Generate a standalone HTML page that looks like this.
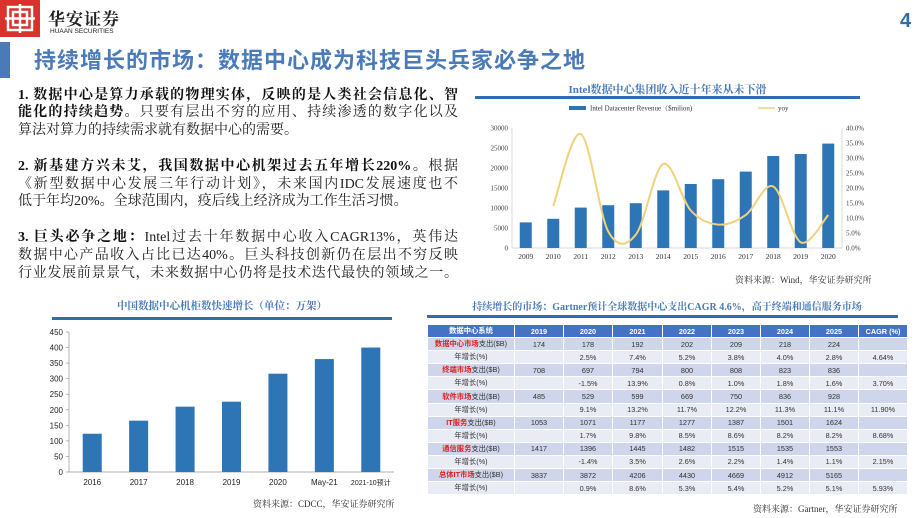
<!DOCTYPE html>
<html><head><meta charset="utf-8">
<style>
*{margin:0;padding:0;box-sizing:border-box}
body{width:920px;height:518px;overflow:hidden;background:#fff;position:relative;font-family:"Liberation Serif","Noto Serif CJK SC",serif}
.abs{position:absolute}
.ln{position:absolute;left:18px;width:440px;font-size:14px;line-height:18px;text-align:justify;text-align-last:justify;color:#222;white-space:nowrap}
.ln.l{text-align-last:left}
b{font-weight:bold;color:#111}
.ctitle{position:absolute;font-weight:bold;color:#4a7ab8;font-size:11px;text-align:center;font-family:"Liberation Serif","Noto Serif CJK SC",serif}
.rule{position:absolute;height:3px;background:#2e6db0}
.src{position:absolute;font-size:9px;color:#333}
table{border-collapse:collapse;position:absolute;left:427px;top:324px;font-family:"Liberation Sans","Noto Sans CJK SC",sans-serif;font-size:7.3px;color:#333;table-layout:fixed}
td,th{border:1px solid #fff;height:13.1px;text-align:center;padding:0}
th{background:#4472c4;color:#fff;font-weight:bold}
tr.v td{background:#cfd5ea}
tr.g td{background:#e9ebf5}
.r{color:#e02020;font-weight:bold}
</style></head><body>
<!-- header -->
<div class="abs" style="left:0;top:0;width:40px;height:37px;background:#d9312c">
<svg width="40" height="37"><g fill="none" stroke="#fff" stroke-width="2.5"><rect x="8" y="7" width="24" height="23"/><line x1="20" y1="4" x2="20" y2="33"/><line x1="5" y1="18.5" x2="35" y2="18.5"/><rect x="13" y="12" width="14" height="13"/></g></svg></div>
<div class="abs" style="left:48px;top:5px;font-size:17px;font-family:'Noto Serif CJK SC',serif;color:#222;font-weight:bold;letter-spacing:1px">华安证券</div>
<div class="abs" style="left:50px;top:28px;font-size:6.5px;font-family:'Liberation Sans',sans-serif;color:#222">HUAAN SECURITIES</div>
<div class="abs" style="left:900px;top:10px;font-size:20px;font-weight:bold;color:#2e6db0;font-family:'Liberation Sans',sans-serif">4</div>
<div class="abs" style="left:0;top:42px;width:10px;height:36px;background:#4a7ab8"></div>
<div class="abs" style="left:34px;top:43px;font-size:22px;font-weight:bold;color:#4a7ab8;letter-spacing:1px;font-family:'Liberation Sans','Noto Sans CJK SC',sans-serif">持续增长的市场：数据中心成为科技巨头兵家必争之地</div>
<!-- paragraphs -->
<div>
<div class="ln" style="top:87px"><b>1. 数据中心是算力承载的物理实体，反映的是人类社会信息化、智</b></div>
<div class="ln" style="top:104px"><b>能化的持续趋势。</b>只要有层出不穷的应用、持续渗透的数字化以及</div>
<div class="ln l" style="top:122px">算法对算力的持续需求就有数据中心的需要。</div>
</div>
<div>
<div class="ln" style="top:158px"><b>2. 新基建方兴未艾，我国数据中心机架过去五年增长220%。</b>根据</div>
<div class="ln" style="top:176px">《新型数据中心发展三年行动计划》，未来国内IDC发展速度也不</div>
<div class="ln l" style="top:193px">低于年均20%。全球范围内，疫后线上经济成为工作生活习惯。</div>
</div>
<div>
<div class="ln" style="top:229px"><b>3. 巨头必争之地：</b>Intel过去十年数据中心收入CAGR13%，英伟达</div>
<div class="ln" style="top:247px">数据中心产品收入占比已达40%。巨头科技创新仍在层出不穷反映</div>
<div class="ln" style="top:265px">行业发展前景景气，未来数据中心仍将是技术迭代最快的领域之一。</div>
</div>

<!-- Intel chart -->
<div class="ctitle" style="left:475px;top:81px;width:385px">Intel数据中心集团收入近十年来从未下滑</div>
<div class="rule" style="left:475px;top:96px;width:385px"></div>
<svg class="abs" style="left:0;top:0" width="920" height="518" id="intel"></svg>
<div class="src" style="left:735px;top:273px">资料来源：Wind，华安证券研究所</div>

<!-- Rack chart -->
<div class="ctitle" style="left:52px;top:298px;width:340px;font-size:10.5px">中国数据中心机柜数快速增长（单位：万架）</div>
<div class="rule" style="left:52px;top:317px;width:340px"></div>
<svg class="abs" style="left:0;top:0" width="920" height="518" id="rack"></svg>
<div class="src" style="left:253px;top:497px">资料来源：CDCC，华安证券研究所</div>

<!-- Table -->
<div class="ctitle" style="left:428px;top:298px;width:478px;font-size:10px">持续增长的市场：Gartner预计全球数据中心支出CAGR 4.6%，高于终端和通信服务市场</div>
<div class="rule" style="left:427px;top:315px;width:471px"></div>
<table>
<colgroup><col style="width:87px"><col style="width:49px"><col style="width:49px"><col style="width:50px"><col style="width:49px"><col style="width:49px"><col style="width:49px"><col style="width:49px"><col style="width:49px"></colgroup>
<tr><th>数据中心系统</th><th>2019</th><th>2020</th><th>2021</th><th>2022</th><th>2023</th><th>2024</th><th>2025</th><th>CAGR (%)</th></tr>
<tr class="v"><td><span class="r">数据中心市场</span>支出($B)</td><td>174</td><td>178</td><td>192</td><td>202</td><td>209</td><td>218</td><td>224</td><td></td></tr>
<tr class="g"><td>年增长(%)</td><td></td><td>2.5%</td><td>7.4%</td><td>5.2%</td><td>3.8%</td><td>4.0%</td><td>2.8%</td><td>4.64%</td></tr>
<tr class="v"><td><span class="r">终端市场</span>支出($B)</td><td>708</td><td>697</td><td>794</td><td>800</td><td>808</td><td>823</td><td>836</td><td></td></tr>
<tr class="g"><td>年增长(%)</td><td></td><td>-1.5%</td><td>13.9%</td><td>0.8%</td><td>1.0%</td><td>1.8%</td><td>1.6%</td><td>3.70%</td></tr>
<tr class="v"><td><span class="r">软件市场</span>支出($B)</td><td>485</td><td>529</td><td>599</td><td>669</td><td>750</td><td>836</td><td>928</td><td></td></tr>
<tr class="g"><td>年增长(%)</td><td></td><td>9.1%</td><td>13.2%</td><td>11.7%</td><td>12.2%</td><td>11.3%</td><td>11.1%</td><td>11.90%</td></tr>
<tr class="v"><td><span class="r">IT服务</span>支出($B)</td><td>1053</td><td>1071</td><td>1177</td><td>1277</td><td>1387</td><td>1501</td><td>1624</td><td></td></tr>
<tr class="g"><td>年增长(%)</td><td></td><td>1.7%</td><td>9.8%</td><td>8.5%</td><td>8.6%</td><td>8.2%</td><td>8.2%</td><td>8.68%</td></tr>
<tr class="v"><td><span class="r">通信服务</span>支出($B)</td><td>1417</td><td>1396</td><td>1445</td><td>1482</td><td>1515</td><td>1535</td><td>1553</td><td></td></tr>
<tr class="g"><td>年增长(%)</td><td></td><td>-1.4%</td><td>3.5%</td><td>2.6%</td><td>2.2%</td><td>1.4%</td><td>1.1%</td><td>2.15%</td></tr>
<tr class="v"><td><span class="r">总体IT市场</span>支出($B)</td><td>3837</td><td>3872</td><td>4206</td><td>4430</td><td>4669</td><td>4912</td><td>5165</td><td></td></tr>
<tr class="g"><td>年增长(%)</td><td></td><td>0.9%</td><td>8.6%</td><td>5.3%</td><td>5.4%</td><td>5.2%</td><td>5.1%</td><td>5.93%</td></tr>
</table>
<div class="src" style="left:753px;top:502px">资料来源：Gartner，华安证券研究所</div>

<script>
const NS='http://www.w3.org/2000/svg';
const intelYears=['2009','2010','2011','2012','2013','2014','2015','2016','2017','2018','2019','2020'];
const intelRevenue=[6400,7300,10100,10700,11200,14400,16000,17200,19100,23000,23500,26100];
const intelYoy=[null,14,38,5.5,4.4,28,12.5,7.8,11,20.5,1.9,11];
const revTicks=[0,5000,10000,15000,20000,25000,30000];
const yoyTicks=[0,5,10,15,20,25,30,35,40];
const rackCats=['2016','2017','2018','2019','2020','May-21','2021-10预计'];
const rackValues=[123,165,210,226,316,363,400];
const rackTicks=[0,50,100,150,200,250,300,350,400,450];

function mk(svg,tag,attrs,text){const e=document.createElementNS(NS,tag);for(const k in attrs)e.setAttribute(k,attrs[k]);if(text!=null)e.textContent=text;svg.appendChild(e);return e;}

// Intel chart
(function(){
const svg=document.getElementById('intel');
const x0=512,x1=842,yT=128,yB=248;
const step=(x1-x0)/intelYears.length;
const xC=i=>x0+step*(i+0.5);
const yL=v=>yB-(v/30000)*(yB-yT);
const yR=v=>yB-(v/40)*(yB-yT);
const serif='Liberation Serif, Noto Serif CJK SC, serif';
let lg=mk(svg,'rect',{x:569,y:106,width:17,height:4,fill:'#2e75b6'});

mk(svg,'text',{x:590,y:110.5,'font-size':7,'font-family':serif,fill:'#333'},'Intel Datacenter Revenue（$milion)');
let ly=mk(svg,'line',{x1:758,y1:108,x2:775,y2:108,stroke:'#f0d27a','stroke-width':1.5});

mk(svg,'text',{x:778,y:110.5,'font-size':7,'font-family':serif,fill:'#333'},'yoy');
mk(svg,'line',{x1:x0,y1:yT,x2:x0,y2:yB,stroke:'#ccc','stroke-width':0.7});
mk(svg,'line',{x1:x1,y1:yT,x2:x1,y2:yB,stroke:'#ccc','stroke-width':0.7});
mk(svg,'line',{x1:x0,y1:yB,x2:x1,y2:yB,stroke:'#ccc','stroke-width':0.7});
revTicks.forEach(t=>{const tx=mk(svg,'text',{x:x0-4,y:yL(t)+2.5,'font-size':7,'text-anchor':'end','font-family':serif,fill:'#444'},String(t));
});
yoyTicks.forEach(t=>{const tx=mk(svg,'text',{x:x1+4,y:yR(t)+2.5,'font-size':7,'font-family':serif,fill:'#444'},t.toFixed(1)+'%');
});
intelRevenue.forEach((v,i)=>{const r=mk(svg,'rect',{x:xC(i)-6,y:yL(v),width:12,height:yB-yL(v),fill:'#2e75b6'});
});
intelYears.forEach((y,i)=>{const tx=mk(svg,'text',{x:xC(i),y:yB+11,'font-size':7.5,'text-anchor':'middle','font-family':serif,fill:'#333'},y);
});
const pts=[];intelYoy.forEach((v,i)=>{if(v!=null)pts.push([xC(i),yR(v)]);});
let d='M'+pts[0][0]+','+pts[0][1];
for(let i=0;i<pts.length-1;i++){const p0=pts[Math.max(0,i-1)],p1=pts[i],p2=pts[i+1],p3=pts[Math.min(pts.length-1,i+2)];
const c1=[p1[0]+(p2[0]-p0[0])/6,p1[1]+(p2[1]-p0[1])/6],c2=[p2[0]-(p3[0]-p1[0])/6,p2[1]-(p3[1]-p1[1])/6];
d+=' C'+c1[0]+','+c1[1]+' '+c2[0]+','+c2[1]+' '+p2[0]+','+p2[1];}
const ln=mk(svg,'path',{d:d,fill:'none',stroke:'#f0d27a','stroke-width':2});

})();

// Rack chart
(function(){
const svg=document.getElementById('rack');
const x0=69,x1=394,yT=332,yB=472;
const step=(x1-x0)/rackCats.length;
const xC=i=>x0+step*(i+0.5);
const y=v=>yB-(v/450)*(yB-yT);
const sans='Liberation Sans, Noto Sans CJK SC, sans-serif';
mk(svg,'line',{x1:x0,y1:yT,x2:x0,y2:yB,stroke:'#999','stroke-width':0.7});
mk(svg,'line',{x1:x0,y1:yB,x2:x1,y2:yB,stroke:'#999','stroke-width':0.7});
rackTicks.forEach(t=>{mk(svg,'line',{x1:x0-3,y1:y(t),x2:x0,y2:y(t),stroke:'#999','stroke-width':0.7});
const tx=mk(svg,'text',{x:x0-6,y:y(t)+3,'font-size':8,'text-anchor':'end','font-family':sans,fill:'#222'},String(t));
});
rackValues.forEach((v,i)=>{const r=mk(svg,'rect',{x:xC(i)-9.5,y:y(v),width:19,height:yB-y(v),fill:'#2e75b6'});
});
rackCats.forEach((c,i)=>{const tx=mk(svg,'text',{x:xC(i),y:yB+13,'font-size':i==6?7:8,'text-anchor':'middle','font-family':sans,fill:'#222'},c);
});
})();
</script>
</body></html>
